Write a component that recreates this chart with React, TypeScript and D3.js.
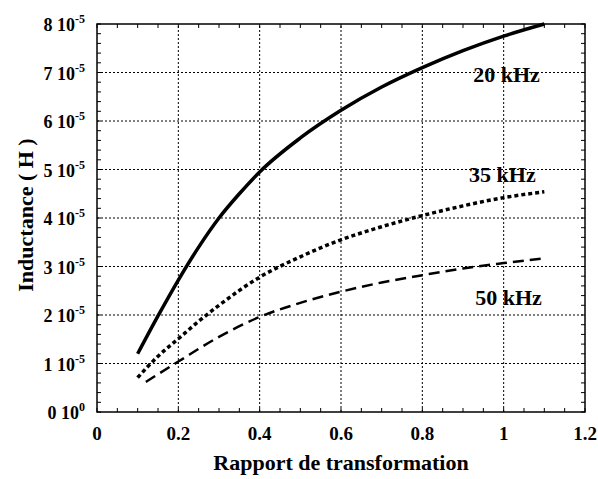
import React, { useEffect, useRef } from 'react';
import * as d3 from 'd3';

// Rapport de transformation (x) and inductance (in 1e-5 H)
const x20 = [0.1, 0.15, 0.2, 0.25, 0.3, 0.35, 0.4, 0.5, 0.6, 0.7, 0.8, 0.9, 1.0, 1.1];
const y20 = [1.2, 1.98, 2.72, 3.4, 4.0, 4.5, 4.95, 5.65, 6.22, 6.7, 7.1, 7.45, 7.75, 8.0];
const x35 = [0.1, 0.15, 0.2, 0.25, 0.3, 0.4, 0.5, 0.6, 0.7, 0.8, 0.9, 1.0, 1.1];
const y35 = [0.71, 1.15, 1.51, 1.87, 2.2, 2.78, 3.2, 3.55, 3.82, 4.05, 4.25, 4.42, 4.54];
const x50 = [0.12, 0.2, 0.3, 0.4, 0.5, 0.6, 0.7, 0.8, 0.9, 1.0, 1.1];
const y50 = [0.62, 1.04, 1.55, 1.96, 2.25, 2.48, 2.67, 2.82, 2.96, 3.07, 3.17];

const xTicks = [0, 0.2, 0.4, 0.6, 0.8, 1, 1.2];
const xTickLabels = ['0', '0.2', '0.4', '0.6', '0.8', '1', '1.2'];
const yTicks = [0, 1, 2, 3, 4, 5, 6, 7, 8];
const seriesLabels = ['20 kHz', '35 kHz', '50 kHz'];

const App: React.FC = () => {
	const svgRef = useRef<SVGSVGElement>(null);

	useEffect(() => {
		if (svgRef.current == null) return;
		const width = 598;
		const height = 479;
		const margin = { top: 24, right: 13, bottom: 67, left: 97 };

		const x = d3.scaleLinear().domain([0, 1.2]).range([margin.left, width - margin.right]);
		const y = d3.scaleLinear().domain([0, 8]).range([height - margin.bottom, margin.top]);

		const svg = d3.select(svgRef.current);
		svg.selectAll('*').remove();

		const font = '"Liberation Serif", "Times New Roman", serif';

		// grid
		xTicks.slice(1, -1).forEach(t => {
			svg.append('line')
				.attr('x1', x(t)).attr('x2', x(t))
				.attr('y1', y(0)).attr('y2', y(8))
				.attr('stroke', '#000').attr('stroke-width', 1)
				.attr('stroke-dasharray', '2,2');
		});
		yTicks.slice(1, -1).forEach(t => {
			svg.append('line')
				.attr('x1', x(0)).attr('x2', x(1.2))
				.attr('y1', y(t)).attr('y2', y(t))
				.attr('stroke', '#000').attr('stroke-width', 1)
				.attr('stroke-dasharray', '2,2');
		});

		// minor ticks
		d3.range(0, 1.2001, 0.05).forEach(t => {
			svg.append('line').attr('x1', x(t)).attr('x2', x(t)).attr('y1', y(0)).attr('y2', y(0) - 4)
				.attr('stroke', '#000').attr('stroke-width', 1);
			svg.append('line').attr('x1', x(t)).attr('x2', x(t)).attr('y1', y(8)).attr('y2', y(8) + 4)
				.attr('stroke', '#000').attr('stroke-width', 1);
		});
		d3.range(0, 8.001, 0.2).forEach(t => {
			svg.append('line').attr('x1', x(0)).attr('x2', x(0) + 4).attr('y1', y(t)).attr('y2', y(t))
				.attr('stroke', '#000').attr('stroke-width', 1);
			svg.append('line').attr('x1', x(1.2)).attr('x2', x(1.2) - 4).attr('y1', y(t)).attr('y2', y(t))
				.attr('stroke', '#000').attr('stroke-width', 1);
		});

		// frame
		svg.append('rect')
			.attr('x', x(0)).attr('y', y(8))
			.attr('width', x(1.2) - x(0)).attr('height', y(0) - y(8))
			.attr('fill', 'none').attr('stroke', '#000').attr('stroke-width', 1.5);

		// x tick labels
		xTicks.forEach((t, i) => {
			svg.append('text')
				.attr('x', x(t)).attr('y', y(0) + 28)
				.attr('text-anchor', 'middle')
				.style('font-family', font).style('font-weight', 'bold').style('font-size', '19px')
				.text(xTickLabels[i]);
		});

		// y tick labels
		yTicks.forEach(t => {
			const txt = svg.append('text')
				.attr('x', 85).attr('y', y(t) + 7)
				.attr('text-anchor', 'end')
				.style('font-family', font).style('font-weight', 'bold').style('font-size', '18px');
			txt.append('tspan').text(`${t} 10`);
			txt.append('tspan').attr('dy', -8).style('font-size', '12px').text(t === 0 ? '0' : '-5');
		});

		// axis titles
		svg.append('text')
			.attr('x', (x(0) + x(1.2)) / 2).attr('y', 470)
			.attr('text-anchor', 'middle')
			.style('font-family', font).style('font-weight', 'bold').style('font-size', '22px')
			.text('Rapport de transformation');
		svg.append('text')
			.attr('transform', `translate(33, 215) rotate(-90)`)
			.attr('text-anchor', 'middle')
			.style('font-family', font).style('font-weight', 'bold').style('font-size', '22px')
			.text('Inductance ( H )');

		const line = d3.line<[number, number]>()
			.x(d => x(d[0])).y(d => y(d[1]))
			.curve(d3.curveMonotoneX);

		const series = [
			{ xs: x20, ys: y20, w: 3.5, dash: null as string | null },
			{ xs: x35, ys: y35, w: 3.5, dash: '4,3' },
			{ xs: x50, ys: y50, w: 2.5, dash: '11,6' }
		];
		series.forEach(s => {
			const pts = s.xs.map((v, i) => [v, s.ys[i]] as [number, number]);
			const p = svg.append('path')
				.attr('d', line(pts))
				.attr('fill', 'none').attr('stroke', '#000')
				.attr('stroke-width', s.w);
			if (s.dash) p.attr('stroke-dasharray', s.dash);
		});

		// series labels
		const labelPos = [
			{ x: 0.925, y: 6.8 },
			{ x: 0.915, y: 4.74 },
			{ x: 0.93, y: 2.2 }
		];
		seriesLabels.forEach((lab, i) => {
			svg.append('text')
				.attr('x', x(labelPos[i].x)).attr('y', y(labelPos[i].y))
				.style('font-family', font).style('font-weight', 'bold').style('font-size', '22px')
				.text(lab);
		});
	}, []);

	return <svg ref={svgRef} width={598} height={479} style={{ position: 'absolute', left: 0, top: 0, background: '#fff' }}></svg>;
};

export default App;
